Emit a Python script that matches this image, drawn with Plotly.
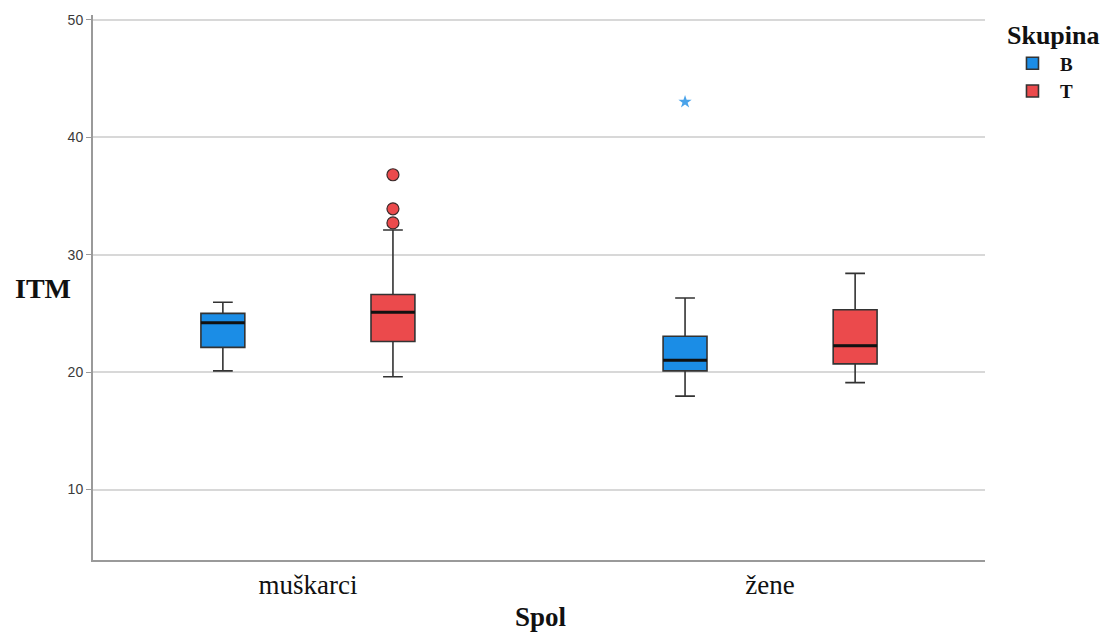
import plotly.graph_objects as go

categories = ["muškarci", "žene"]
groups = ["B", "T"]

# Box statistics per group, in category order
B_q1 = [22.1, 20.1]
B_median = [24.2, 21.0]
B_q3 = [25.0, 23.05]
B_low = [20.1, 17.95]
B_high = [25.95, 26.3]

T_q1 = [22.6, 20.7]
T_median = [25.1, 22.25]
T_q3 = [26.6, 25.3]
T_low = [19.6, 19.1]
T_high = [32.1, 28.4]

# Outliers: (category index, value)
B_extreme_cat = [1]
B_extreme_val = [43.0]
T_outlier_cat = [0, 0, 0]
T_outlier_val = [36.8, 33.9, 32.7]

y_ticks = [10, 20, 30, 40, 50]

colors = {"B": "#1b8de6", "T": "#eb4a4c"}
offset = 0.184
box_w = 0.095

fig = go.Figure()

stats = {
    "B": (B_q1, B_median, B_q3, B_low, B_high, -offset),
    "T": (T_q1, T_median, T_q3, T_low, T_high, offset),
}
for g in groups:
    q1, med, q3, lo, hi, off = stats[g]
    pos = [i + off for i in range(len(categories))]
    fig.add_trace(go.Box(
        x=pos,
        q1=q1, median=med, q3=q3, lowerfence=lo, upperfence=hi,
        name=g, fillcolor=colors[g],
        line=dict(color="#333333", width=1.6),
        width=box_w, whiskerwidth=0.45, boxpoints=False,
        hoverinfo="y",
    ))
    # thicker black median line, as in the reference
    mx, my = [], []
    for p, m in zip(pos, med):
        mx += [p - box_w / 2, p + box_w / 2, None]
        my += [m, m, None]
    fig.add_trace(go.Scatter(
        x=mx, y=my, mode="lines", line=dict(color="#111111", width=3),
        showlegend=False, hoverinfo="skip",
    ))

fig.add_trace(go.Scatter(
    x=[i - offset for i in B_extreme_cat], y=B_extreme_val, mode="markers",
    marker=dict(symbol="star", size=10, color="#4aa3ea", line=dict(width=0)),
    showlegend=False,
))
fig.add_trace(go.Scatter(
    x=[i + offset for i in T_outlier_cat], y=T_outlier_val, mode="markers",
    marker=dict(symbol="circle", size=12, color=colors["T"],
                line=dict(color="#3a2a2a", width=1.2)),
    showlegend=False,
))

fig.add_annotation(
    text="<b>ITM</b>", xref="paper", yref="y", x=-0.0897, y=27.1,
    xanchor="left", yanchor="middle", showarrow=False,
    font=dict(family="Liberation Serif", size=28, color="#111"),
)
fig.add_annotation(
    text="<b>Spol</b>", xref="paper", yref="paper", x=0.502, y=0,
    xanchor="center", yanchor="middle", yshift=-57, showarrow=False,
    font=dict(family="Liberation Serif", size=27, color="#111"),
)

fig.update_layout(
    width=1115, height=632,
    margin=dict(l=85, r=138, t=7, b=80, autoexpand=False),
    paper_bgcolor="white", plot_bgcolor="white",
    legend=dict(
        title=dict(text="<b>Skupina</b>",
                   font=dict(family="Liberation Serif", size=26, color="#111")),
        font=dict(family="Liberation Serif", size=19, color="#111", weight="bold"),
        x=1.0224, y=1.008, xanchor="left", yanchor="top",
        tracegroupgap=0, itemwidth=45,
    ),
    xaxis=dict(
        range=[-0.465, 1.465], tickvals=[0, 1], ticktext=categories,
        showgrid=False, zeroline=False, showline=True,
        linecolor="#9a9a9a", linewidth=2, ticks="",
        tickfont=dict(family="Liberation Serif", size=27, color="#111"),
        ticklabelstandoff=0, automargin=False,
    ),
    yaxis=dict(
        range=[4.0, 50.4], tickvals=y_ticks,
        showgrid=True, gridcolor="#d8d8d8", gridwidth=2,
        zeroline=False, showline=True, linecolor="#9a9a9a", linewidth=2,
        ticks="outside", ticklen=5, tickcolor="#9a9a9a",
        tickfont=dict(family="Liberation Sans", size=14, color="#3a3a3a"),
        automargin=False,
    ),
)

fig.write_html("out.html")
